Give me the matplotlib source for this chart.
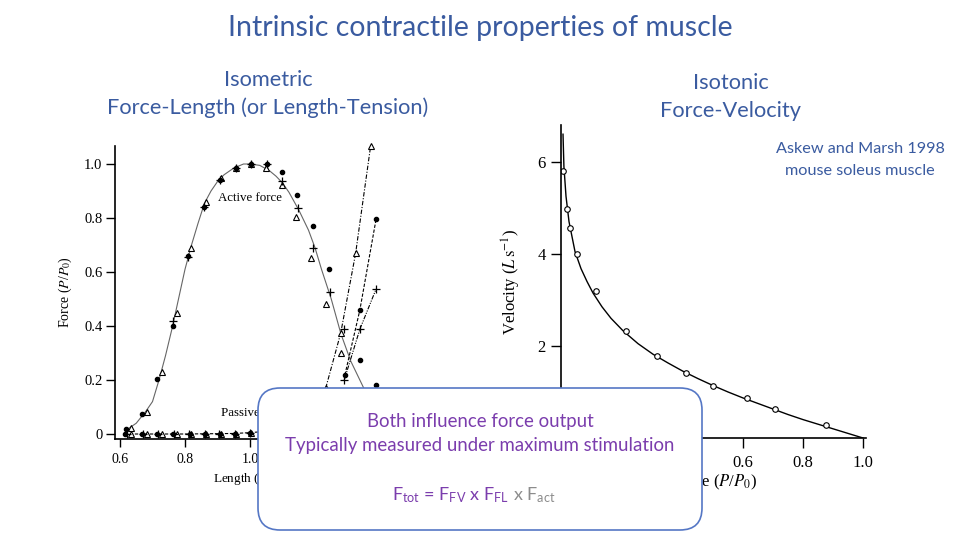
import matplotlib
matplotlib.use("Agg")
import matplotlib.pyplot as plt
from matplotlib.patches import FancyBboxPatch
from matplotlib.transforms import IdentityTransform

plt.rcParams['mathtext.fontset'] = 'stix'
plt.rcParams['mathtext.rm'] = 'Lato'
plt.rcParams['mathtext.it'] = 'Lato:italic'

# ---- force-length (left) ----
act_curve_x = [0.62, 0.65, 0.68, 0.70, 0.72, 0.74, 0.76, 0.78, 0.80, 0.82, 0.84, 0.86, 0.88,
               0.90, 0.92, 0.95, 0.98, 1.00, 1.03, 1.06, 1.08, 1.10, 1.12, 1.15, 1.18, 1.20,
               1.22, 1.25, 1.28, 1.31, 1.35, 1.40, 1.42]
act_curve_y = [0.015, 0.04, 0.085, 0.12, 0.20, 0.29, 0.39, 0.50, 0.61, 0.70, 0.78, 0.855, 0.90,
               0.935, 0.96, 0.985, 1.0, 1.0, 0.995, 0.975, 0.955, 0.93, 0.895, 0.83, 0.755, 0.69,
               0.61, 0.50, 0.37, 0.27, 0.17, 0.09, 0.06]

act_tri_x = [0.634, 0.683, 0.729, 0.775, 0.818, 0.865, 0.91, 0.957, 1.003, 1.05, 1.098, 1.142, 1.188, 1.234, 1.28]
act_tri_y = [0.022, 0.082, 0.23, 0.448, 0.69, 0.86, 0.95, 0.985, 1.0, 0.985, 0.922, 0.804, 0.652, 0.48, 0.30]
act_dot_x = [0.618, 0.668, 0.714, 0.763, 0.808, 0.858, 0.908, 0.957, 1.003, 1.052, 1.098, 1.145, 1.195, 1.243, 1.338, 1.388]
act_dot_y = [0.019, 0.074, 0.204, 0.40, 0.66, 0.84, 0.94, 0.985, 1.0, 1.0, 0.97, 0.885, 0.77, 0.61, 0.274, 0.181]
act_plus_x = [0.763, 0.808, 0.858, 0.908, 0.957, 1.003, 1.052, 1.098, 1.148, 1.195, 1.245, 1.29]
act_plus_y = [0.42, 0.656, 0.84, 0.94, 0.985, 1.0, 1.0, 0.937, 0.837, 0.69, 0.526, 0.39]

pas_line_x = [0.615, 0.80, 0.95, 1.00, 1.05, 1.10]
pas_line_y = [0.0, 0.0, 0.002, 0.005, 0.01, 0.02]
pas_dot_x = [0.615, 0.668, 0.714, 0.763, 0.815, 0.862, 0.908, 0.954, 1.0]
pas_tri_x = [0.634, 0.683, 0.729, 0.775, 0.818, 0.865, 0.91, 0.957, 1.003]
pas_plus_x = [0.62, 0.67, 0.716, 0.766, 0.812, 0.86, 0.905, 0.955, 1.0]
pas_y = [0, 0, 0, 0, 0, 0, 0, 0, 0.005]

pas_a_x = [1.233, 1.279, 1.325, 1.371]
pas_a_y = [0.17, 0.373, 0.669, 1.065]
pas_b_x = [1.292, 1.338, 1.388]
pas_b_y = [0.219, 0.459, 0.796]
pas_c_x = [1.29, 1.338, 1.388]
pas_c_y = [0.20, 0.388, 0.537]

fl_xticks = [0.6, 0.8, 1.0, 1.2, 1.4]
fl_yticks = [0, 0.2, 0.4, 0.6, 0.8, 1.0]
fl_yticklabels = ['0', '0.2', '0.4', '0.6', '0.8', '1.0']

# ---- force-velocity (right) ----
fv_curve_x = [0.0, 0.003, 0.01, 0.02, 0.04, 0.06, 0.08, 0.10, 0.13, 0.16, 0.20, 0.25, 0.30, 0.35,
              0.40, 0.45, 0.50, 0.55, 0.60, 0.65, 0.70, 0.75, 0.80, 0.85, 0.90, 0.95, 1.0]
fv_curve_y = [6.6, 5.9, 5.25, 4.7, 4.05, 3.68, 3.4, 3.15, 2.85, 2.6, 2.33, 2.05, 1.82, 1.63,
              1.45, 1.29, 1.14, 1.0, 0.87, 0.75, 0.63, 0.51, 0.40, 0.30, 0.20, 0.10, 0.0]
fv_pts_x = [0.001, 0.012, 0.023, 0.046, 0.11, 0.21, 0.312, 0.409, 0.501, 0.612, 0.707, 0.877]
fv_pts_y = [5.79, 4.98, 4.56, 4.0, 3.20, 2.33, 1.78, 1.41, 1.14, 0.86, 0.62, 0.28]

fv_xticks = [0.2, 0.4, 0.6, 0.8, 1.0]
fv_yticks = [2, 4, 6]

blue = '#3A5BA0'
purple = '#7B3DAD'
serif = 'Liberation Serif'

fig = plt.figure(figsize=(9.6, 5.4), dpi=100)

# left panel
ax1 = fig.add_axes([115/960, (540-439)/540, 270/960, (439-146)/540])
ax1.plot(act_curve_x, act_curve_y, color='#666666', lw=0.8)
ax1.plot(pas_line_x, pas_line_y, color='black', lw=0.8, ls=(0, (3, 1.5)))
ax1.plot(pas_a_x, pas_a_y, color='black', lw=0.8, ls=(0, (4, 1.5, 1, 1.5)))
ax1.plot(pas_b_x, pas_b_y, color='black', lw=0.8, ls=(0, (3, 1.5)))
ax1.plot(pas_c_x, pas_c_y, color='black', lw=0.8, ls=(0, (4, 1.2, 1, 1.2, 1, 1.2)))
for xs, ys in [(act_tri_x, act_tri_y), (pas_tri_x, pas_y), (pas_a_x, pas_a_y)]:
    ax1.plot(xs, ys, ls='none', marker='^', ms=4, mfc='white', mec='black', mew=0.8, clip_on=False)
for xs, ys in [(act_dot_x, act_dot_y), (pas_dot_x, pas_y), (pas_b_x, pas_b_y)]:
    ax1.plot(xs, ys, ls='none', marker='o', ms=3, color='black', clip_on=False)
for xs, ys in [(act_plus_x, act_plus_y), (pas_plus_x, pas_y), (pas_c_x, pas_c_y)]:
    ax1.plot(xs, ys, ls='none', marker='+', ms=5.5, color='black', mew=0.9, clip_on=False)
ax1.text(0.90, 0.874, 'Active force', va='center', fontsize=9.3, family=serif)
ax1.text(0.91, 0.078, 'Passive force', va='center', fontsize=9.3, family=serif)
ax1.set_xlim(0.5846, 1.4154)
ax1.set_ylim(-0.0185, 1.0667)
ax1.set_xticks(fl_xticks)
ax1.set_xticklabels([f'{v:.1f}' for v in fl_xticks])
ax1.set_yticks(fl_yticks)
ax1.set_yticklabels(fl_yticklabels)
ax1.tick_params(axis='x', labelsize=10, length=6, width=1, pad=4)
ax1.tick_params(axis='y', labelsize=10.5, length=6.5, width=1, pad=2.5)
for lab in ax1.get_xticklabels() + ax1.get_yticklabels():
    lab.set_family(serif)
ax1.set_ylabel('Force ($P$/$P_0$)', fontsize=10, family=serif)
ax1.yaxis.set_label_coords(-0.15, 0.5)
ax1.set_xlabel('Length ($L$/$L_0$)', fontsize=9.5, family=serif)
ax1.xaxis.set_label_coords(0.5, -0.11)
for s in ['top', 'right']:
    ax1.spines[s].set_visible(False)
for s in ['left', 'bottom']:
    ax1.spines[s].set_linewidth(1.2)

# right panel
ax2 = fig.add_axes([561/960, (540-438)/540, 305/960, (438-125)/540])
ax2.plot(fv_curve_x, fv_curve_y, color='black', lw=1.0)
ax2.plot(fv_pts_x, fv_pts_y, ls='none', marker='o', ms=4, mfc='white', mec='black', mew=0.8)
ax2.set_xlim(-0.0067, 1.01)
ax2.set_ylim(0, 6.8)
ax2.set_xticks(fv_xticks)
ax2.set_xticklabels([f'{v:.1f}' for v in fv_xticks])
ax2.set_yticks(fv_yticks)
ax2.tick_params(labelsize=12, length=7, width=1)
ax2.tick_params(axis='x', pad=5)
ax2.tick_params(axis='y', pad=4)
for lab in ax2.get_xticklabels() + ax2.get_yticklabels():
    lab.set_family(serif)
ax2.set_ylabel('Velocity ($L\\,\\mathrm{s}^{-1}$)', fontsize=12, family=serif)
ax2.yaxis.set_label_coords(-0.125, 0.5)
ax2.set_xlabel('Force ($P$/$P_0$)', fontsize=12, family=serif)
ax2.xaxis.set_label_coords(0.5, -0.11)
for s in ['top', 'right']:
    ax2.spines[s].set_visible(False)
for s in ['left', 'bottom']:
    ax2.spines[s].set_linewidth(1.2)


def ftext(x, y, s, **kw):
    # x, y in pixels from the top-left corner of the slide
    return fig.text(x/960, 1 - y/540, s, **kw)


font = 'Lato'
ftext(480, 28, 'Intrinsic contractile properties of muscle', ha='center', va='center',
      fontsize=20.5, color=blue, family=font)
ftext(268, 80, 'Isometric', ha='center', va='center', fontsize=15.7, color=blue, family=font)
ftext(268, 108, 'Force-Length (or Length-Tension)', ha='center', va='center', fontsize=15.7,
      color=blue, family=font)
ftext(731, 83, 'Isotonic', ha='center', va='center', fontsize=15.7, color=blue, family=font)
ftext(731, 111, 'Force-Velocity', ha='center', va='center', fontsize=15.7, color=blue, family=font)
ftext(860, 149, 'Askew and Marsh 1998', ha='center', va='center', fontsize=11.7, color=blue, family=font)
ftext(860, 171, 'mouse soleus muscle', ha='center', va='center', fontsize=11.7, color=blue, family=font)

# call-out box over both panels
box = FancyBboxPatch((258, 540-530), 444, 142, boxstyle='round,pad=0,rounding_size=22',
                     transform=IdentityTransform(), facecolor='white', edgecolor='#5577C5',
                     lw=1.2, zorder=5)
fig.add_artist(box)
ftext(480, 422, 'Both influence force output', ha='center', va='center', fontsize=13.4,
      color=purple, family=font, zorder=6)
ftext(480, 446, 'Typically measured under maximum stimulation', ha='center', va='center',
      fontsize=13.4, color=purple, family=font, zorder=6)
ftext(509, 500, '$\\mathrm{F_{tot}}$ = $\\mathrm{F_{FV}}$ x $\\mathrm{F_{FL}}$', ha='right',
      va='baseline', fontsize=13, color=purple, family=font, math_fontfamily='custom', zorder=6)
ftext(513, 500, 'x $\\mathrm{F_{act}}$', ha='left', va='baseline', fontsize=13,
      color='#8C8C8C', family=font, math_fontfamily='custom', zorder=6)

fig.savefig('out.png', dpi=100)
